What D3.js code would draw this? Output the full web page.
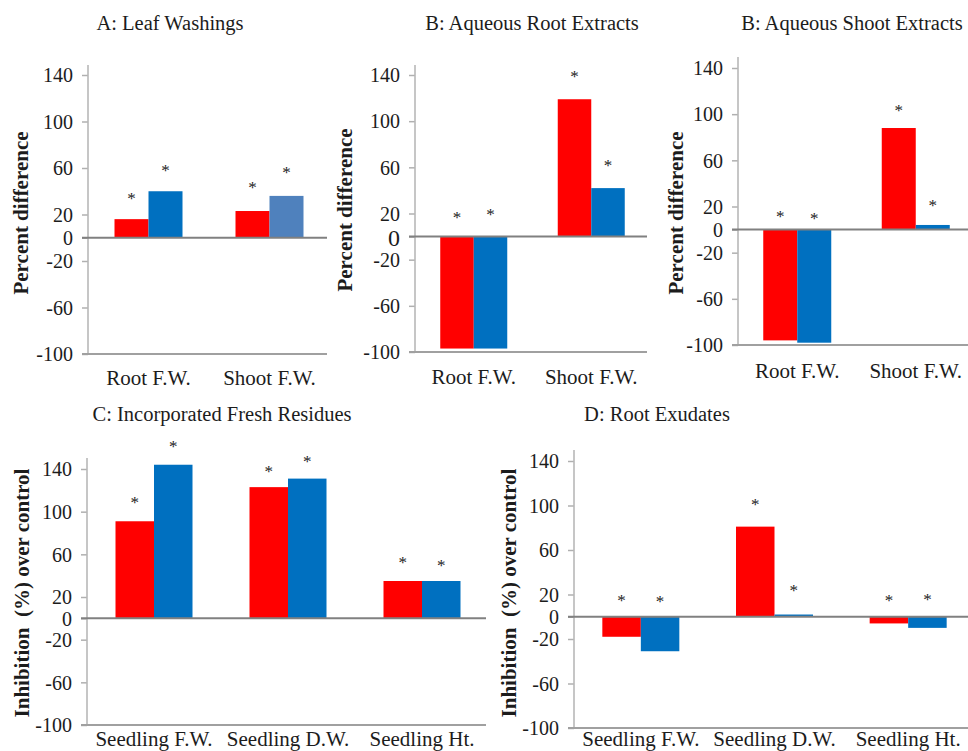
<!DOCTYPE html>
<html>
<head>
<meta charset="utf-8">
<script src="https://cdn.jsdelivr.net/npm/d3@7"></script>
<style>
  body { margin: 0; background: #fff; }
  svg { display: block; }
  text { font-family: "Liberation Serif", "Times New Roman", serif; fill: #1c1c1c; }
</style>
</head>
<body>
<svg id="chart" width="968" height="751"></svg>
<script>
// ---- data ----
const yTicks = [140, 100, 60, 20, 0, -20, -60, -100];
const weightCats = ["Root F.W.", "Shoot F.W."];
const seedlingCats = ["Seedling F.W.", "Seedling D.W.", "Seedling Ht."];

// A: Leaf Washings
const leafRed = [16, 23];
const leafBlue = [40, 36];
const leafRedStar = [37, 46];
const leafBlueStar = [61, 59];

// B: Aqueous Root Extracts
const rootExtRed = [-97, 119];
const rootExtBlue = [-97, 42];
const rootExtRedStar = [20, 142];
const rootExtBlueStar = [22, 65];

// B: Aqueous Shoot Extracts
const shootExtRed = [-96, 88];
const shootExtBlue = [-98, 4];
const shootExtRedStar = [14, 106];
const shootExtBlueStar = [13, 24];

// C: Incorporated Fresh Residues
const residueRed = [91, 123, 35];
const residueBlue = [144, 131, 35];
const residueRedStar = [112, 141, 56];
const residueBlueStar = [164, 150, 53];

// D: Root Exudates
const exudateRed = [-18, 81, -6];
const exudateBlue = [-31, 2, -10];
const exudateRedStar = [18, 104, 18];
const exudateBlueStar = [17, 27, 19];

// ---- layout ----
const RED = "#ff0000", BLUE = "#0070c0";

const panels = [
  { title: "A: Leaf Washings", cats: weightCats, red: leafRed, blue: leafBlue,
    redStar: leafRedStar, blueStar: leafBlueStar, yLabel: "Percent difference",
    x0: 88, x1: 330, yTop: 75, yBot: 354, axisTop: 65, barW: 34,
    titleX: 170, titleY: 30, labX: 28, labY: 213, xLabY: 385,
    blueColors: [BLUE, "#4f81bd"] },
  { title: "B: Aqueous Root Extracts", cats: weightCats, red: rootExtRed, blue: rootExtBlue,
    redStar: rootExtRedStar, blueStar: rootExtBlueStar, yLabel: "Percent difference",
    x0: 415, x1: 650, yTop: 75, yBot: 352, axisTop: 65, barW: 33.5,
    titleX: 532, titleY: 30, labX: 352, labY: 210, xLabY: 384, bigZero: true },
  { title: "B: Aqueous Shoot Extracts", cats: weightCats, red: shootExtRed, blue: shootExtBlue,
    redStar: shootExtRedStar, blueStar: shootExtBlueStar, yLabel: "Percent difference",
    x0: 738, x1: 975, yTop: 68, yBot: 345, axisTop: 57, barW: 34,
    titleX: 852, titleY: 30, labX: 683, labY: 213, xLabY: 378 },
  { title: "C: Incorporated Fresh Residues", cats: seedlingCats, red: residueRed, blue: residueBlue,
    redStar: residueRedStar, blueStar: residueBlueStar, yLabel: "Inhibition  (%) over control",
    x0: 87, x1: 489, yTop: 469, yBot: 725, axisTop: 458, barW: 38.5,
    titleX: 222, titleY: 421, labX: 29, labY: 593, xLabY: 746 },
  { title: "D: Root Exudates", cats: seedlingCats, red: exudateRed, blue: exudateBlue,
    redStar: exudateRedStar, blueStar: exudateBlueStar, yLabel: "Inhibition  (%) over control",
    x0: 574, x1: 975, yTop: 461, yBot: 728, axisTop: 450, barW: 38.5,
    titleX: 657, titleY: 421, labX: 516, labY: 593, xLabY: 746 }
];

const svg = d3.select("#chart");
svg.append("rect").attr("width", 968).attr("height", 751).attr("fill", "#fff");

panels.forEach(p => {
  const g = svg.append("g");
  const y = d3.scaleLinear().domain([-100, 140]).range([p.yBot, p.yTop]);
  const x = d3.scalePoint().domain(p.cats).range([p.x0, p.x1]).padding(0.5);
  const sub = d3.scaleBand().domain(["red", "blue"]).range([-p.barW, p.barW]);

  const rows = p.cats.map((c, i) => ({
    cat: c, i,
    red: p.red[i], blue: p.blue[i],
    redStar: p.redStar[i], blueStar: p.blueStar[i]
  }));

  // bars + significance stars
  rows.forEach(r => {
    ["red", "blue"].forEach(s => {
      const v = r[s];
      const fill = s === "red" ? RED : (p.blueColors ? p.blueColors[r.i] : BLUE);
      g.append("rect")
        .attr("x", x(r.cat) + sub(s))
        .attr("width", sub.bandwidth())
        .attr("y", Math.min(y(v), y(0)))
        .attr("height", Math.abs(y(v) - y(0)))
        .attr("fill", fill);
      g.append("text")
        .attr("x", x(r.cat) + sub(s) + sub.bandwidth() / 2)
        .attr("y", y(r[s + "Star"]) + 9)
        .attr("text-anchor", "middle")
        .attr("font-size", 17)
        .text("*");
    });
  });

  // y axis
  const axis = d3.axisLeft(y).tickValues(yTicks).tickFormat(d => String(d))
    .tickSize(6).tickPadding(9).tickSizeOuter(0);
  const ag = g.append("g").attr("transform", `translate(${p.x0},0)`).call(axis);
  ag.select(".domain").remove();
  ag.selectAll(".tick line").attr("stroke", "#b0b0b0").attr("stroke-width", 1.5);
  ag.selectAll(".tick text")
    .attr("font-family", "Liberation Serif, serif")
    .attr("font-size", 20)
    .attr("fill", "#1c1c1c")
    .attr("dy", "0.34em");
  if (p.bigZero) {
    ag.selectAll(".tick").filter(d => d === 0).select("text")
      .attr("font-size", 24).attr("dy", "0.36em");
  }

  g.append("line")
    .attr("x1", p.x0).attr("x2", p.x0)
    .attr("y1", p.axisTop).attr("y2", y(-100))
    .attr("stroke", "#b8b8b8").attr("stroke-width", 1.6);

  // bottom frame line and zero line
  g.append("line")
    .attr("x1", p.x0 - 6).attr("x2", p.x1 - 3)
    .attr("y1", y(-100)).attr("y2", y(-100))
    .attr("stroke", "#a0a0a0").attr("stroke-width", 1.8);
  g.append("line")
    .attr("x1", p.x0 - 6).attr("x2", p.x1 - 3)
    .attr("y1", y(0)).attr("y2", y(0))
    .attr("stroke", "#808080").attr("stroke-width", 2);

  // category labels
  p.cats.forEach(c => {
    g.append("text")
      .attr("x", x(c))
      .attr("y", p.xLabY)
      .attr("text-anchor", "middle")
      .attr("font-size", 21)
      .text(c);
  });

  // title
  g.append("text")
    .attr("x", p.titleX).attr("y", p.titleY)
    .attr("text-anchor", "middle")
    .attr("font-size", 20.5)
    .text(p.title);

  // y label
  g.append("text")
    .attr("transform", `translate(${p.labX},${p.labY}) rotate(-90)`)
    .attr("text-anchor", "middle")
    .attr("font-size", 21)
    .attr("font-weight", "bold")
    .style("white-space", "pre")
    .text(p.yLabel);
});
</script>
</body>
</html>
